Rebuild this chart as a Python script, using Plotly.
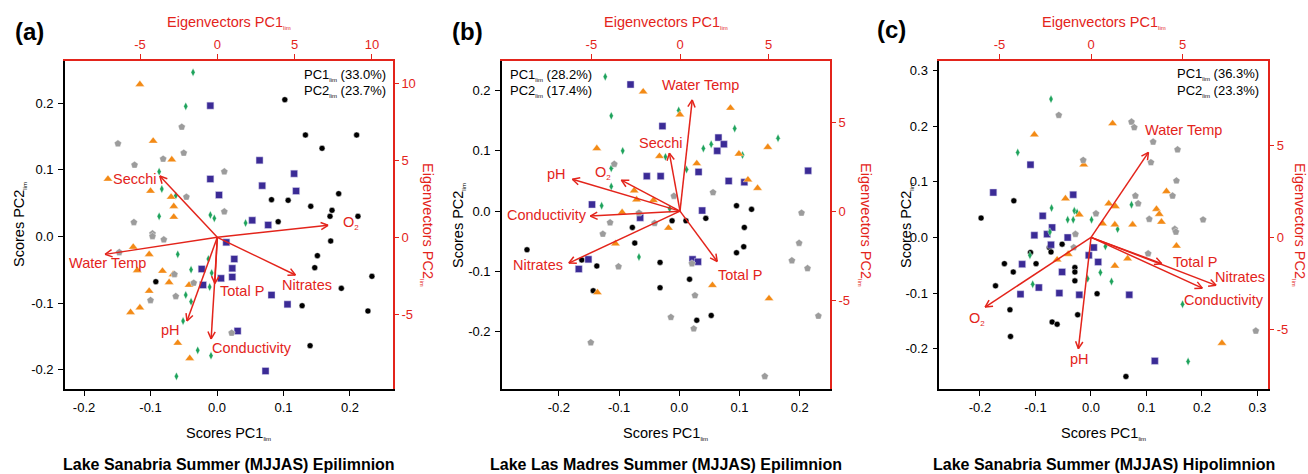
import math
import plotly.graph_objects as go

W, H = 1308, 474
RED = "#e3241b"
FONT = "Liberation Sans, Arial, Helvetica, sans-serif"

# ---------------- data: panel (a) Lake Sanabria Epilimnion ----------------
a_circle_x = [0.102, 0.133, 0.210, 0.158, 0.183, 0.082, 0.107, 0.141, 0.173, 0.170, 0.212, 0.092, 0.171, 0.151, 0.147, 0.233, 0.187, -0.092, 0.128, 0.227, 0.140]
a_circle_y = [0.205, 0.152, 0.152, 0.132, 0.064, 0.055, 0.054, 0.045, 0.039, 0.030, 0.030, 0.022, -0.007, -0.029, -0.047, -0.060, -0.078, -0.068, -0.104, -0.112, -0.164]
a_square_x = [-0.010, 0.064, -0.010, 0.116, 0.068, 0.003, 0.119, 0.053, 0.077, 0.014, 0.026, -0.023, 0.023, 0.006, 0.023, -0.021, 0.082, 0.106, 0.031, 0.073]
a_square_y = [0.196, 0.114, 0.086, 0.094, 0.076, 0.062, 0.068, 0.024, 0.017, -0.009, -0.034, -0.049, -0.048, -0.063, -0.061, -0.073, -0.088, -0.102, -0.142, -0.202]
a_diamond_x = [-0.036, -0.047, -0.087, -0.083, -0.062, -0.087, -0.010, -0.004, 0.043, -0.059, -0.039, -0.013, -0.008, -0.011, -0.047, -0.039, -0.051, -0.029, -0.009, -0.061]
a_diamond_y = [0.246, 0.195, 0.097, 0.071, 0.061, 0.030, 0.032, 0.027, 0.020, -0.027, -0.050, -0.034, -0.055, -0.076, -0.088, -0.098, -0.127, -0.171, -0.179, -0.210]
a_triangle_x = [-0.116, -0.096, -0.068, -0.164, -0.100, -0.069, -0.065, -0.065, -0.126, -0.102, -0.120, -0.082, -0.066, -0.072, -0.042, -0.102, -0.130, -0.116, -0.059, -0.041]
a_triangle_y = [0.228, 0.143, 0.115, 0.086, 0.068, 0.059, 0.045, 0.029, -0.016, -0.027, -0.051, -0.052, -0.057, -0.069, -0.073, -0.082, -0.114, -0.107, -0.160, -0.183]
a_pentagon_x = [-0.053, -0.149, -0.081, -0.050, -0.124, 0.011, -0.046, 0.011, -0.125, -0.097, -0.097, -0.080, -0.147, -0.064, -0.035, -0.062, -0.100, 0.022]
a_pentagon_y = [0.164, 0.139, 0.116, 0.125, 0.107, 0.097, 0.059, 0.037, 0.021, 0.004, 0.000, -0.005, -0.024, -0.057, -0.070, -0.090, -0.096, -0.145]
a_vars = ["Secchi", "O2", "Water Temp", "Nitrates", "Total P", "pH", "Conductivity"]
a_eig1 = [-3.72, 7.16, -7.26, 5.05, -0.16, -1.96, -0.40]
a_eig2 = [3.98, 0.78, -1.11, -2.45, -3.00, -5.44, -6.60]
a_explained = [33.0, 23.7]

# ---------------- data: panel (b) Lake Las Madres Epilimnion ----------------
b_circle_x = [-0.012, 0.011, 0.044, 0.095, 0.120, -0.078, 0.108, -0.253, -0.162, -0.137, -0.074, -0.032, -0.032, 0.017, -0.143, 0.029, 0.053, 0.095, 0.107]
b_circle_y = [-0.016, -0.016, -0.012, 0.009, 0.003, -0.027, -0.027, -0.064, -0.081, -0.091, -0.053, -0.085, -0.127, -0.113, -0.132, -0.181, -0.173, -0.069, -0.059]
b_square_x = [-0.081, -0.028, 0.065, 0.074, 0.063, -0.054, -0.031, 0.032, 0.082, 0.108, 0.214, -0.145, -0.065, 0.038, -0.151, -0.167, 0.022, 0.031]
b_square_y = [0.210, 0.141, 0.122, 0.111, 0.100, 0.058, 0.058, 0.065, 0.050, 0.048, 0.067, 0.011, -0.011, 0.001, -0.080, -0.096, -0.080, -0.084]
b_diamond_x = [-0.123, -0.113, -0.094, -0.113, -0.113, -0.129, -0.023, -0.001, 0.012, 0.040, 0.053, 0.092, 0.105, 0.164, -0.016, -0.067]
b_diamond_y = [0.223, 0.158, 0.100, 0.071, 0.041, 0.009, 0.090, 0.167, 0.069, 0.104, 0.111, 0.137, 0.093, 0.121, 0.004, -0.076]
b_triangle_x = [-0.060, 0.001, 0.085, -0.137, -0.033, 0.099, 0.147, 0.029, -0.075, -0.071, -0.043, 0.114, 0.130, -0.095, -0.018, -0.106, -0.136, 0.055, 0.149]
b_triangle_y = [0.198, 0.160, 0.171, 0.104, 0.091, 0.095, 0.106, 0.079, 0.034, 0.019, 0.018, 0.052, 0.038, -0.002, -0.028, -0.054, -0.135, -0.123, -0.145]
b_pentagon_x = [-0.108, -0.009, 0.056, 0.203, -0.067, -0.115, -0.041, -0.127, -0.101, 0.021, 0.026, -0.014, 0.024, -0.147, 0.142, 0.199, 0.187, 0.213, 0.231]
b_pentagon_y = [0.078, 0.025, 0.031, -0.003, -0.003, -0.019, -0.020, -0.038, -0.092, -0.087, -0.140, -0.176, -0.195, -0.218, -0.274, -0.053, -0.082, -0.095, -0.174]
b_vars = ["Water Temp", "Secchi", "pH", "O2", "Conductivity", "Nitrates", "Total P"]
b_eig1 = [0.69, -0.60, -6.07, -3.31, -5.06, -6.27, 2.10]
b_eig2 = [6.25, 3.26, 1.79, 1.74, -0.28, -2.92, -2.83]
b_explained = [28.2, 17.4]

# ---------------- data: panel (c) Lake Sanabria Hipolimnion ----------------
c_circle_x = [-0.139, -0.198, -0.052, -0.075, -0.072, -0.109, -0.099, -0.156, -0.140, -0.029, -0.029, -0.029, -0.172, 0.011, -0.146, -0.024, -0.070, -0.061, -0.145, 0.063]
c_circle_y = [0.066, 0.035, -0.012, -0.018, -0.026, -0.027, -0.047, -0.047, -0.062, -0.054, -0.062, -0.078, -0.087, -0.101, -0.130, -0.139, -0.152, -0.156, -0.178, -0.250]
c_square_x = [-0.109, -0.176, -0.032, -0.087, -0.070, -0.102, -0.079, -0.042, -0.072, 0.005, -0.004, 0.013, -0.124, -0.052, -0.094, -0.127, -0.057, -0.021, 0.069, 0.115]
c_square_y = [0.131, 0.081, 0.077, 0.039, 0.018, 0.004, 0.006, 0.000, -0.013, -0.018, -0.032, -0.044, -0.048, -0.062, -0.090, -0.102, -0.100, -0.103, -0.103, -0.222]
c_diamond_x = [-0.072, -0.132, -0.071, -0.030, -0.025, -0.042, -0.032, 0.001, 0.073, -0.074, 0.048, 0.026, -0.110, -0.105, 0.017, -0.006, 0.037, 0.165, 0.175]
c_diamond_y = [0.249, 0.153, 0.053, 0.048, 0.045, 0.032, 0.032, 0.032, 0.059, 0.010, 0.015, -0.016, -0.032, -0.084, -0.063, -0.074, -0.079, -0.120, -0.223]
c_triangle_x = [-0.102, 0.039, -0.013, -0.046, -0.021, 0.032, 0.044, 0.136, 0.118, 0.123, 0.127, 0.021, 0.043, 0.075, 0.154, -0.041, -0.061, 0.043, 0.066, 0.236]
c_triangle_y = [0.185, 0.205, 0.131, 0.070, 0.041, 0.061, 0.056, 0.083, 0.051, 0.042, 0.028, 0.025, 0.023, 0.023, -0.015, -0.030, -0.040, -0.051, -0.038, -0.190]
c_pentagon_x = [-0.058, 0.073, 0.078, 0.112, 0.156, 0.108, -0.014, 0.154, 0.080, 0.085, 0.009, 0.105, 0.147, 0.202, -0.028, 0.151, 0.153, -0.031, 0.103, 0.297]
c_pentagon_y = [0.220, 0.208, 0.198, 0.172, 0.158, 0.135, 0.139, 0.102, 0.075, 0.061, 0.043, 0.033, 0.075, 0.032, 0.006, 0.015, 0.010, -0.018, -0.029, -0.168]
c_vars = ["Water Temp", "O2", "pH", "Total P", "Nitrates", "Conductivity"]
c_eig1 = [3.13, -5.78, -0.69, 3.86, 6.82, 6.07]
c_eig2 = [4.62, -3.79, -6.05, -1.43, -2.61, -2.76]
c_explained = [36.3, 23.3]

titles = ["Lake Sanabria Summer (MJJAS) Epilimnion",
          "Lake Las Madres Summer (MJJAS) Epilimnion",
          "Lake Sanabria Summer (MJJAS) Hipolimnion"]
panel_letters = ["(a)", "(b)", "(c)"]

# ---------------- layout (positions / styles) ----------------
SUB = '<sub><span style="font-size:6px">lim</span></sub>'
LABEL_TEXT = {"O2": 'O<sub><span style="font-size:8px">2</span></sub>'}

panels = [
    dict(xdom=(65, 393), ydom=(61, 389), xr=(-0.2286, 0.2647), yr=(-0.229, 0.263),
         x2r=(-9.85, 11.36), y2r=(-9.86, 11.46),
         xt=[-0.2, -0.1, 0.0, 0.1, 0.2], yt=[-0.2, -0.1, 0.0, 0.1, 0.2],
         x2t=[-5, 0, 5, 10], y2t=[-5, 0, 5, 10],
         pts=[(a_circle_x, a_circle_y), (a_square_x, a_square_y), (a_diamond_x, a_diamond_y),
              (a_triangle_x, a_triangle_y), (a_pentagon_x, a_pentagon_y)],
         vars=a_vars, e1=a_eig1, e2=a_eig2, expl=a_explained,
         lab={"Secchi": (-5.32, 3.79), "O2": (8.64, 0.93), "Water Temp": (-7.1, -1.67),
              "Nitrates": (5.77, -3.1), "Total P": (1.6, -3.49), "pH": (-3.06, -6.03),
              "Conductivity": (2.21, -7.2)},
         pc_anchor="right", pc_x=388, pc_y=(75, 91), letter_xy=(29, 32),
         ytitle_x=19, y2title_x=428),
    dict(xdom=(502, 830), ydom=(61, 389), xr=(-0.2945, 0.2503), yr=(-0.295, 0.249),
         x2r=(-10.04, 8.46), y2r=(-10.0, 8.44),
         xt=[-0.2, -0.1, 0.0, 0.1, 0.2], yt=[-0.2, -0.1, 0.0, 0.1, 0.2],
         x2t=[-5, 0, 5], y2t=[-5, 0, 5],
         pts=[(b_circle_x, b_circle_y), (b_square_x, b_square_y), (b_diamond_x, b_diamond_y),
              (b_triangle_x, b_triangle_y), (b_pentagon_x, b_pentagon_y)],
         vars=b_vars, e1=b_eig1, e2=b_eig2, expl=b_explained,
         lab={"Water Temp": (1.13, 7.09), "Secchi": (-1.09, 3.84), "pH": (-6.97, 2.07),
              "O2": (-4.34, 2.14), "Conductivity": (-7.5, -0.19), "Nitrates": (-8.01, -3.04),
              "Total P": (3.36, -3.6)},
         pc_anchor="left", pc_x=508, pc_y=(75, 91), letter_xy=(467, 32),
         ytitle_x=458, y2title_x=866),
    dict(xdom=(939.3, 1268.3), ydom=(61, 389), xr=(-0.2733, 0.3195), yr=(-0.2725, 0.3175),
         x2r=(-8.28, 9.67), y2r=(-8.24, 9.58),
         xt=[-0.2, -0.1, 0.0, 0.1, 0.2, 0.3], yt=[-0.2, -0.1, 0.0, 0.1, 0.2, 0.3],
         x2t=[-5, 0, 5], y2t=[-5, 0, 5],
         pts=[(c_circle_x, c_circle_y), (c_square_x, c_square_y), (c_diamond_x, c_diamond_y),
              (c_triangle_x, c_triangle_y), (c_pentagon_x, c_pentagon_y)],
         vars=c_vars, e1=c_eig1, e2=c_eig2, expl=c_explained,
         lab={"Water Temp": (5.05, 5.85), "Total P": (5.67, -1.35), "Nitrates": (8.13, -2.13),
              "Conductivity": (7.25, -3.39), "O2": (-6.2, -4.46), "pH": (-0.63, -6.63)},
         pc_anchor="right", pc_x=1261, pc_y=(74, 91), letter_xy=(892, 29),
         ytitle_x=906, y2title_x=1300),
]

marker_styles = [
    dict(symbol="circle", size=6, color="#000000", line=dict(color="white", width=0.5)),
    dict(symbol="square", size=7, color="#3b2b96", line=dict(color="#d8d4ee", width=0.5)),
    dict(symbol="diamond-tall", size=6, color="#1ea35c", line=dict(color="white", width=0.4)),
    dict(symbol="triangle-up", size=8.2, color="#f38a15", line=dict(color="white", width=0.4)),
    dict(symbol="pentagon", size=7.6, color="#9c9c9c", line=dict(color="white", width=0.4)),
]

def fx(px):
    return px / W

def fy(py):
    return 1 - py / H

fig = go.Figure()
layout = dict(width=W, height=H, margin=dict(l=0, r=0, t=0, b=0), autosize=False,
              paper_bgcolor="white", plot_bgcolor="white", showlegend=False,
              template="none", font=dict(family=FONT, size=13, color="black"))
annotations = []


def fmt(v, dec):
    return f"{v:.{dec}f}"

for i, p in enumerate(panels):
    sid, eid = 2 * i + 1, 2 * i + 2
    sx = "x" if sid == 1 else f"x{sid}"
    sy = "y" if sid == 1 else f"y{sid}"
    ex, ey = f"x{eid}", f"y{eid}"
    sxk = "xaxis" if sid == 1 else f"xaxis{sid}"
    syk = "yaxis" if sid == 1 else f"yaxis{sid}"
    exk, eyk = f"xaxis{eid}", f"yaxis{eid}"
    xd = [fx(p["xdom"][0]), fx(p["xdom"][1])]
    yd = [fy(p["ydom"][1]), fy(p["ydom"][0])]
    common = dict(showgrid=False, zeroline=False, showline=True, linewidth=1.6,
                  ticks="outside", ticklen=5, tickwidth=1.3, fixedrange=True)
    layout[sxk] = dict(common, domain=xd, range=list(p["xr"]), anchor=sy, side="bottom",
                       linecolor="black", tickcolor="black",
                       tickvals=p["xt"], ticktext=[fmt(v, 1) for v in p["xt"]],
                       tickfont=dict(size=13, color="black", family=FONT), ticklabelstandoff=1)
    layout[syk] = dict(common, domain=yd, range=list(p["yr"]), anchor=sx, side="left",
                       linecolor="black", tickcolor="black",
                       tickvals=p["yt"], ticktext=[fmt(v, 1) for v in p["yt"]],
                       tickfont=dict(size=13, color="black", family=FONT), ticklabelstandoff=2)
    layout[exk] = dict(common, domain=xd, range=list(p["x2r"]), anchor=sy, overlaying=sx,
                       side="top", linecolor=RED, tickcolor=RED,
                       tickvals=p["x2t"], ticktext=[fmt(v, 0) for v in p["x2t"]],
                       tickfont=dict(size=13, color=RED, family=FONT))
    layout[eyk] = dict(common, domain=yd, range=list(p["y2r"]), anchor=sx, overlaying=sy,
                       side="right", linecolor=RED, tickcolor=RED, ticklen=4,
                       tickvals=p["y2t"], ticktext=[fmt(v, 0) for v in p["y2t"]],
                       tickfont=dict(size=13, color=RED, family=FONT), ticklabelstandoff=0)

    # score points
    for (xs, ys), ms in zip(p["pts"], marker_styles):
        fig.add_trace(go.Scatter(x=xs, y=ys, mode="markers", xaxis=sx, yaxis=sy,
                                 marker=ms, hoverinfo="skip", cliponaxis=False))

    # eigenvector arrows (line + open head, head size in pixels)
    kx = (p["xdom"][1] - p["xdom"][0]) / (p["x2r"][1] - p["x2r"][0])
    ky = (p["ydom"][1] - p["ydom"][0]) / (p["y2r"][1] - p["y2r"][0])
    lx, ly = [], []
    L, ang = 8.0, math.radians(27)
    for vx, vy in zip(p["e1"], p["e2"]):
        th = math.atan2(vy * ky, vx * kx)
        lx += [0, vx, None]
        ly += [0, vy, None]
        for s in (1, -1):
            a = th + math.pi + s * ang
            lx += [vx + L * math.cos(a) / kx, vx, None]
            ly += [vy + L * math.sin(a) / ky, vy, None]
    fig.add_trace(go.Scatter(x=lx, y=ly, mode="lines", xaxis=ex, yaxis=ey,
                             line=dict(color=RED, width=1.5), hoverinfo="skip"))

    for v in p["vars"]:
        tx, ty = p["lab"][v]
        annotations.append(dict(x=tx, y=ty, xref=ex, yref=ey, text=LABEL_TEXT.get(v, v),
                                showarrow=False, xanchor="center", yanchor="middle",
                                font=dict(size=14.5, color=RED, family=FONT)))

    cx = (p["xdom"][0] + p["xdom"][1]) / 2
    cy = (p["ydom"][0] + p["ydom"][1]) / 2
    # axis titles
    annotations.append(dict(x=fx(cx), y=fy(23), xref="paper", yref="paper",
                            text="Eigenvectors PC1" + SUB, showarrow=False,
                            xanchor="center", yanchor="middle",
                            font=dict(size=14.5, color=RED, family=FONT)))
    annotations.append(dict(x=fx(cx), y=fy(433), xref="paper", yref="paper",
                            text="Scores PC1" + SUB, showarrow=False,
                            xanchor="center", yanchor="middle",
                            font=dict(size=14.5, color="black", family=FONT)))
    annotations.append(dict(x=fx(p["ytitle_x"]), y=fy(cy), xref="paper", yref="paper",
                            text="Scores PC2" + SUB, showarrow=False, textangle=-90,
                            xanchor="center", yanchor="middle",
                            font=dict(size=14.5, color="black", family=FONT)))
    annotations.append(dict(x=fx(p["y2title_x"]), y=fy(cy), xref="paper", yref="paper",
                            text="Eigenvectors PC2" + SUB, showarrow=False, textangle=90,
                            xanchor="center", yanchor="middle",
                            font=dict(size=14.5, color=RED, family=FONT)))
    annotations.append(dict(x=fx(cx), y=0, xref="paper", yref="paper",
                            text="<b>" + titles[i] + "</b>", showarrow=False,
                            xanchor="center", yanchor="bottom", borderpad=0,
                            font=dict(size=16, color="black", family=FONT)))
    annotations.append(dict(x=fx(p["letter_xy"][0]), y=fy(p["letter_xy"][1]), xref="paper",
                            yref="paper", text="<b>" + panel_letters[i] + "</b>",
                            showarrow=False, xanchor="center", yanchor="middle",
                            font=dict(size=24, color="black", family=FONT)))
    for k in range(2):
        annotations.append(dict(x=fx(p["pc_x"]), y=fy(p["pc_y"][k]), xref="paper",
                                yref="paper",
                                text=f"PC{k + 1}" + SUB + f" ({p['expl'][k]:.1f}%)",
                                showarrow=False, xanchor=p["pc_anchor"], yanchor="middle",
                                font=dict(size=13, color="black", family=FONT)))

layout["annotations"] = annotations
fig.update_layout(**layout)
fig.write_html("out.html")
